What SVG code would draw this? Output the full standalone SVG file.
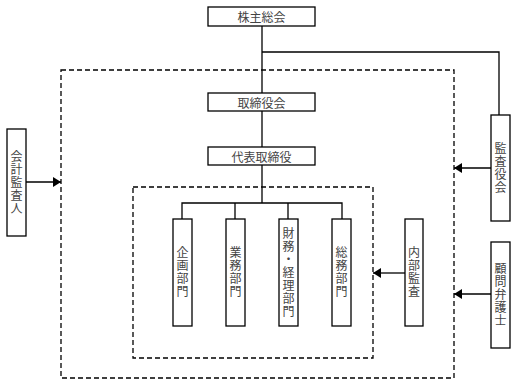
<svg xmlns="http://www.w3.org/2000/svg" width="515" height="384" viewBox="0 0 515 384">
<defs>
<style>
.box{fill:#fff;stroke:#000;stroke-width:1.3}
.dash{fill:none;stroke:#000;stroke-width:1.3;stroke-dasharray:5 3}
.ln{fill:none;stroke:#000;stroke-width:1.3}
.t{font-family:"Noto Sans CJK JP","Noto Sans",sans-serif;font-size:12px;fill:#444;text-anchor:middle;dominant-baseline:central}
.v{writing-mode:vertical-rl;letter-spacing:1px}
</style>
<marker id="ah" viewBox="0 0 8 10" refX="8" refY="5" markerWidth="8" markerHeight="10" markerUnits="userSpaceOnUse" orient="auto">
<path d="M0,0L8,5L0,10Z" fill="#000"/>
</marker>
</defs>
<rect x="0" y="0" width="515" height="384" fill="#fff"/>
<g id="groups">
<rect class="dash" x="61" y="70" width="393" height="308"/>
<rect class="dash" x="133" y="187" width="240" height="171"/>
</g>
<g id="connectors">
<path class="ln" d="M262,26V93"/>
<path class="ln" d="M262,52H499V115"/>
<path class="ln" d="M262,111V147"/>
<path class="ln" d="M262,165V203"/>
<path class="ln" d="M182,219V203H342V219M235,203V219M288,203V219"/>
<path class="ln" d="M26,182H61" marker-end="url(#ah)"/>
<path class="ln" d="M491,168H454" marker-end="url(#ah)"/>
<path class="ln" d="M491,294H454" marker-end="url(#ah)"/>
<path class="ln" d="M405,273H373" marker-end="url(#ah)"/>
</g>
<g id="kabunushi"><rect class="box" x="208" y="7" width="107" height="19"/><text class="t" x="261.5" y="16.5">株主総会</text></g>
<g id="torishimariyakukai"><rect class="box" x="208" y="93" width="107" height="18"/><text class="t" x="261.5" y="102">取締役会</text></g>
<g id="daihyo"><rect class="box" x="208" y="147" width="107" height="18"/><text class="t" x="261.5" y="156">代表取締役</text></g>
<g id="kikaku"><rect class="box" x="173" y="219" width="19" height="107"/><text class="t v" x="182.5" y="272.5">企画部門</text></g>
<g id="gyomu"><rect class="box" x="226" y="219" width="19" height="107"/><text class="t v" x="235.5" y="272.5">業務部門</text></g>
<g id="zaimu"><rect class="box" x="279" y="219" width="19" height="107"/><text class="t v" x="288.5" y="272.5">財務・経理部門</text></g>
<g id="somu"><rect class="box" x="332" y="219" width="19" height="107"/><text class="t v" x="341.5" y="272.5">総務部門</text></g>
<g id="naibukansa"><rect class="box" x="405" y="219" width="18" height="107"/><text class="t v" x="414" y="272.5">内部監査</text></g>
<g id="kansayakukai"><rect class="box" x="491" y="115" width="19" height="106"/><text class="t v" x="500.5" y="168">監査役会</text></g>
<g id="komon"><rect class="box" x="491" y="242" width="19" height="106"/><text class="t v" x="500.5" y="295">顧問弁護士</text></g>
<g id="kaikei"><rect class="box" x="7" y="129" width="19" height="107"/><text class="t v" x="16.5" y="182.5">会計監査人</text></g>
</svg>
